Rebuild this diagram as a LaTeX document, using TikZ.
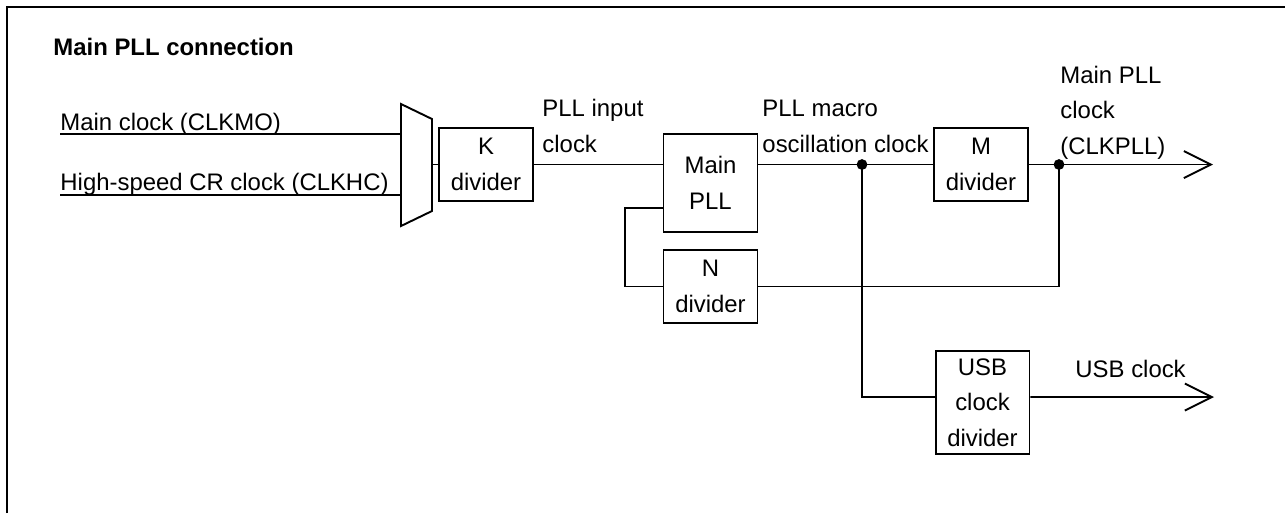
\documentclass[tikz,border=0pt]{standalone}
\usepackage{fontspec}
\setmainfont{Liberation Sans}
\usetikzlibrary{arrows.meta,calc,positioning}
\tikzset{
  wire/.style={line width=0.8pt,draw=black},
  outwire/.style={wire,-{Straight Barb[length=11.3pt,width=11.3pt,line width=0.8pt]}},
  frame/.style={line width=1.1pt,draw=black},
  divbox/.style={draw=black,line width=0.8pt,align=center,inner sep=0pt,minimum width=39.3pt,minimum height=30.5pt,font=\fontsize{10}{14.8}\selectfont},
  lbl/.style={inner sep=0pt,align=left,font=\fontsize{10}{14.8}\selectfont},
  heading/.style={lbl,font=\fontsize{10}{12}\selectfont\bfseries},
  junction/.style={circle,fill=black,inner sep=0pt,minimum size=4.5pt}
}
\begin{document}
\begin{tikzpicture}[x=0.4184pt,y=-0.4184pt]
  \useasboundingbox (0,0) rectangle (1285,513);
  % frame and heading
  \draw[frame] (7,513) -- (7,7) -- (1285,7);
  \node[heading,anchor=base west] (title) at (53,55) {Main PLL connection};

  % clock selector
  \coordinate (mux-tl) at (401,104);
  \coordinate (mux-tr) at (432,119);
  \coordinate (mux-br) at (432,211);
  \coordinate (mux-bl) at (401,226);
  \coordinate (mux-out) at (432,164.5);
  \draw[wire] (mux-tl) -- (mux-tr) -- (mux-br) -- (mux-bl) -- cycle;

  % dividers and PLL
  \node[divbox] (kdiv) at (486,164.5) {K\\divider};
  \node[divbox,minimum height=41pt] (pll) at (710.5,183) {Main\\PLL};
  \node[divbox] (ndiv) at (710.5,286.5) {N\\divider};
  \node[divbox] (mdiv) at (981,164.5) {M\\divider};
  \node[divbox,minimum height=43.1pt] (usbdiv) at (982.5,402.5) {USB\\clock\\divider};

  % inputs
  \coordinate (in-mo) at (60,134);
  \coordinate (in-hc) at (60,195);
  \draw[wire] (in-mo) -- (in-mo -| mux-tl);
  \draw[wire] (in-hc) -- (in-hc -| mux-tl);
  \node[lbl,anchor=base west] (lbl-mo) at ($(in-mo)+(0,-4)$) {Main clock (CLKMO)};
  \node[lbl,anchor=base west] (lbl-hc) at ($(in-hc)+(0,-5)$) {High-speed CR clock (CLKHC)};

  % main path
  \coordinate (tap-vco) at (862,164.5);
  \coordinate (tap-out) at (1059,164.5);
  \coordinate (out-pll) at (1213,164.5);
  \coordinate (out-usb) at (1214,397);
  \draw[wire] (mux-out) -- (kdiv.west);
  \draw[wire] (kdiv.east) -- (kdiv.east -| pll.west);
  \draw[wire] (kdiv.east -| pll.east) -- (mdiv.west);
  \draw[outwire] (mdiv.east) -- (out-pll);

  % feedback and USB branch
  \draw[wire] (tap-out) |- (ndiv.east);
  \draw[wire] (ndiv.west) -- ++(-38,0) |- ($(pll.west)+(0,25)$);
  \draw[wire] (tap-vco) |- ([yshift=2.3pt]usbdiv.west);
  \draw[outwire] ([yshift=2.3pt]usbdiv.east) -- (out-usb);
  \node[junction] (dot-vco) at (tap-vco) {};
  \node[junction] (dot-out) at (tap-out) {};

  % signal names
  \node[lbl,anchor=base west] (lbl-in) at (542,152) {PLL input\\clock};
  \node[lbl,anchor=base west] (lbl-vco) at (762,152) {PLL macro\\oscillation clock};
  \node[lbl,anchor=base west] (lbl-pll) at (1060,154) {Main PLL\\clock\\(CLKPLL)};
  \node[lbl,anchor=base west] (lbl-usb) at (1075,377) {USB clock};
\end{tikzpicture}
\end{document}
